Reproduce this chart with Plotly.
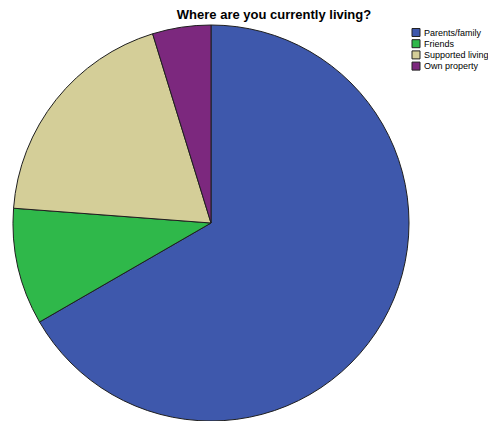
import plotly.graph_objects as go

categories = ["Parents/family", "Friends", "Supported living", "Own property"]
counts = [14, 2, 4, 1]
colors = ["#3e58ac", "#2fb84a", "#d4ce98", "#7c287e"]

W, H = 488, 421
fig = go.Figure(go.Pie(
    labels=categories,
    values=counts,
    sort=False,
    direction="clockwise",
    rotation=0,
    textinfo="none",
    hoverinfo="label+value+percent",
    marker=dict(colors=colors, line=dict(color="#1f1f1f", width=1)),
    domain=dict(x=[12 / W, 410 / W], y=[0, 1 - 25 / H]),
    showlegend=False,
))

# Manual compact legend (SPSS style)
font = dict(family="Liberation Sans, Arial", size=9, color="black")
for i, (cat, col) in enumerate(zip(categories, colors)):
    yc = 32.5 + 11.2 * i
    fig.add_shape(type="rect", xref="paper", yref="paper",
                  x0=412 / W, x1=420 / W, y0=1 - (yc - 4) / H, y1=1 - (yc + 4) / H,
                  fillcolor=col, line=dict(color="#222222", width=1))
    fig.add_annotation(xref="paper", yref="paper", x=422 / W, y=1 - yc / H,
                       xanchor="left", yanchor="middle", text=cat, showarrow=False,
                       font=font)

fig.update_layout(
    width=W, height=H,
    margin=dict(l=0, r=0, t=0, b=0),
    paper_bgcolor="white",
    title=dict(text="<b>Where are you currently living?</b>", x=274 / W, xanchor="center",
               y=1 - 14 / H, yanchor="middle",
               font=dict(family="Liberation Sans, Arial", size=13, color="black")),
)
fig.write_html("out.html",
               config={"displayModeBar": False},
               post_script="document.body.style.margin='0';document.body.style.overflow='hidden';")
